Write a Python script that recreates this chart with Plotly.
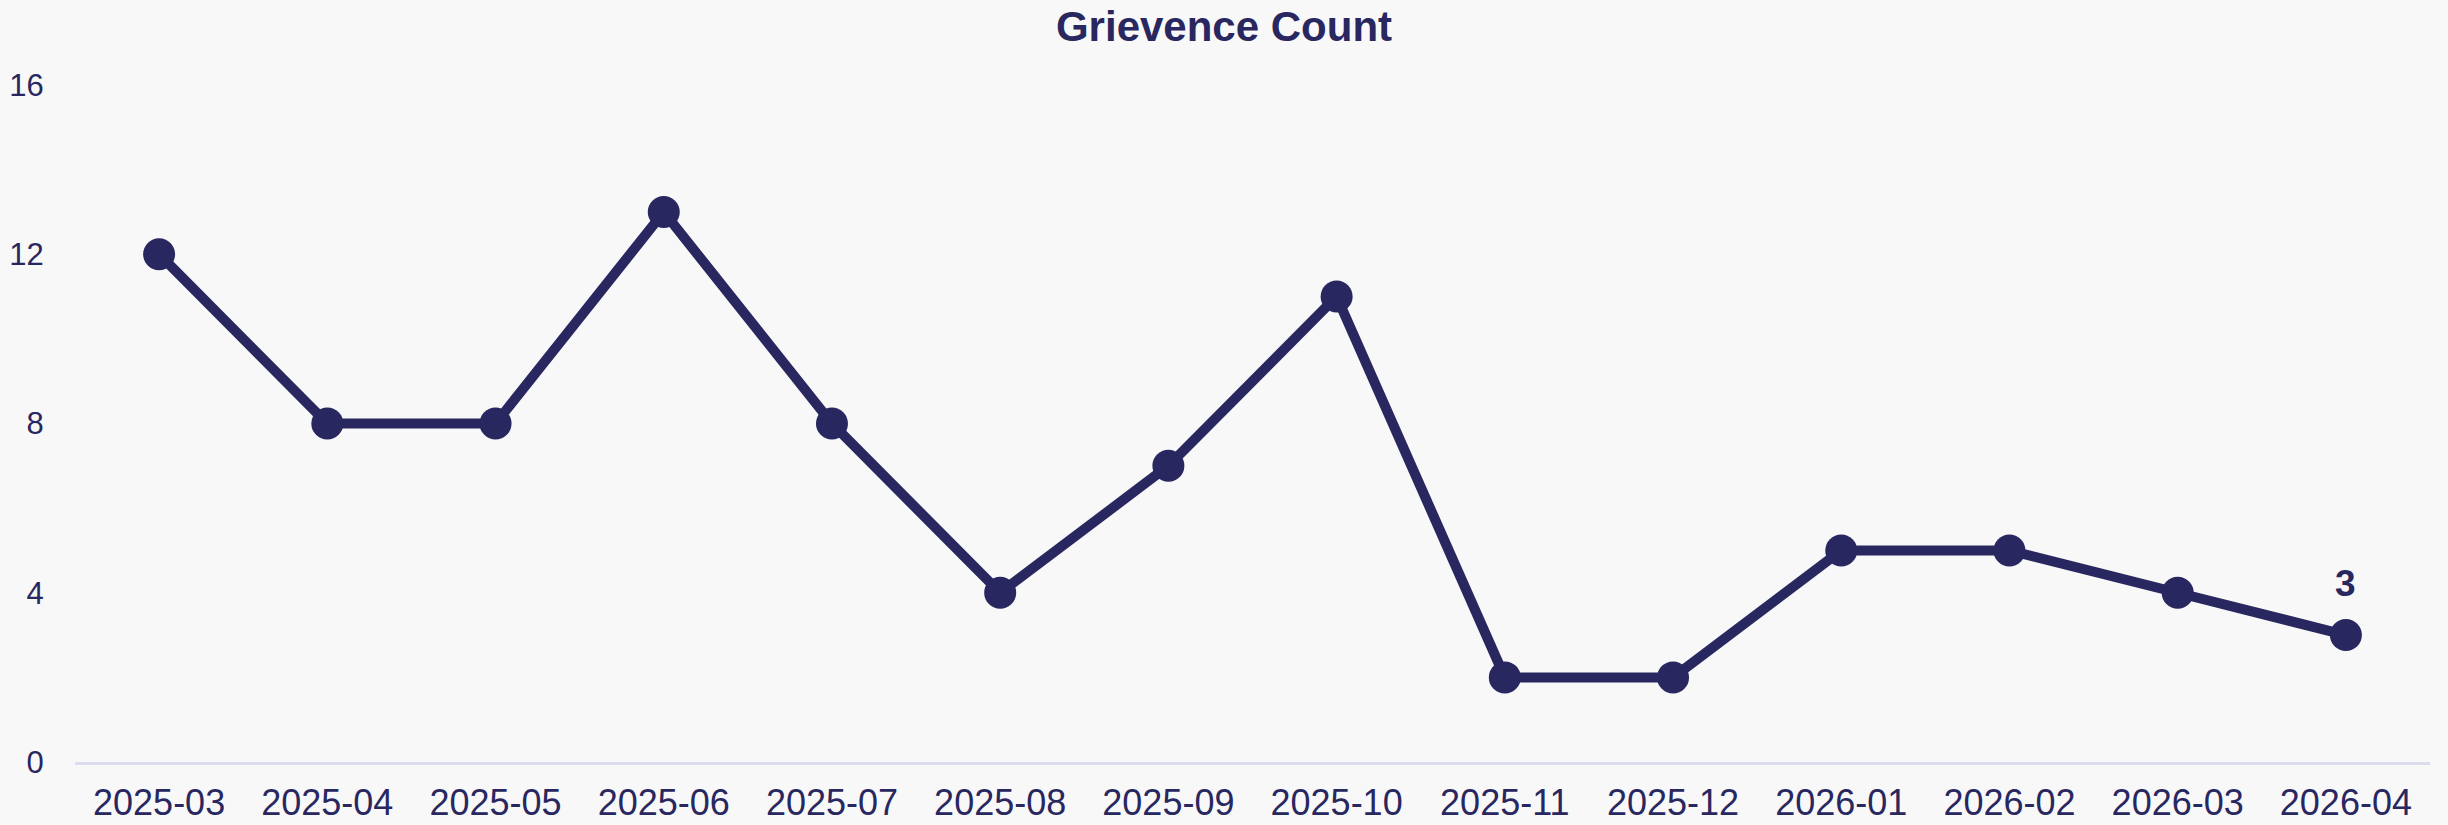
import plotly.graph_objects as go

months = ["2025-03", "2025-04", "2025-05", "2025-06", "2025-07", "2025-08", "2025-09",
          "2025-10", "2025-11", "2025-12", "2026-01", "2026-02", "2026-03", "2026-04"]
counts = [12, 8, 8, 13, 8, 4, 7, 11, 2, 2, 5, 5, 4, 3]
y_ticks = [0, 4, 8, 12, 16]
title_text = "Grievence Count"

NAVY = "#29275f"
BG = "#f8f8f8"

fig = go.Figure()
fig.add_trace(go.Scatter(
    x=months, y=counts, mode="lines+markers",
    line=dict(color=NAVY, width=10),
    marker=dict(color=NAVY, size=32),
    cliponaxis=False, hoverinfo="x+y", showlegend=False,
))

fig.add_annotation(
    x=months[-1], y=counts[-1], text=f"<b>{counts[-1]}</b>", showarrow=False,
    yshift=52, font=dict(family="Liberation Sans, Arial", size=37, color=NAVY),
)

fig.update_layout(
    width=2448, height=825,
    paper_bgcolor=BG, plot_bgcolor=BG,
    margin=dict(l=75, r=18, t=85, b=63),
    title=dict(text=f"<b>{title_text}</b>", x=0.5, xref="container", xanchor="center",
               y=1 - 26 / 825, yref="container", yanchor="middle",
               font=dict(family="Liberation Sans, Arial", size=42, color=NAVY)),
    font=dict(family="Liberation Sans, Arial", color=NAVY),
)
fig.update_xaxes(
    type="category", range=[-0.5, len(months) - 0.5], automargin=False,
    showgrid=False, showline=True, linecolor="#dcdcef", linewidth=3,
    ticks="outside", ticklen=7, tickcolor="rgba(0,0,0,0)",
    tickfont=dict(size=36, color=NAVY), zeroline=False,
)
fig.update_yaxes(
    range=[0, 16], tickvals=y_ticks, showgrid=False, zeroline=False, showline=False,
    automargin=False,
    ticks="outside", ticklen=24, tickcolor="rgba(0,0,0,0)",
    tickfont=dict(size=31, color=NAVY),
)

fig.write_html(
    "out.html",
    config={"displayModeBar": False},
    post_script="document.body.style.margin='0';document.body.style.overflow='hidden';"
                "document.body.style.background='" + BG + "';",
)
